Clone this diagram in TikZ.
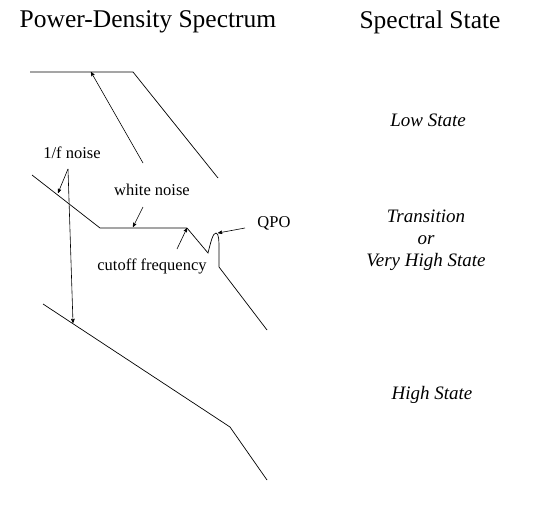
\documentclass[tikz,border=0pt]{standalone}
\usepackage{fontspec}
\setmainfont{Liberation Serif}
\usepackage{tikz}
\usetikzlibrary{arrows,positioning}

\begin{document}
\begin{tikzpicture}[x=1pt,y=-1pt,
  curve/.style={line width=0.7pt},
  pointer/.style={->,>=stealth',line width=0.6pt},
  heading/.style={anchor=base,font=\fontsize{25.5}{28}\selectfont},
  note/.style={anchor=base,font=\fontsize{16.5}{18}\selectfont},
  statelabel/.style={align=center,font=\fontsize{19}{22}\selectfont\itshape}]
\useasboundingbox (0,0) rectangle (535,532);

% headings
\node[heading] (psd) at (148,28) {Power-Density Spectrum};
\node[heading] (spec) at (430,29) {Spectral State};

% states
\node[statelabel,anchor=base] (low) at (428,126) {Low State};
\node[statelabel] (trans) at (426,240) {Transition\\or\\Very High State};
\node[statelabel,anchor=base] (high) at (432,399) {High State};

% spectra
\coordinate (l1) at (30,72);
\coordinate (l2) at (133,72);
\coordinate (l3) at (218,178);
\draw[curve] (l1) -- (l2) -- (l3);

\coordinate (t1) at (32,175);
\coordinate (t2) at (100,228);
\coordinate (t3) at (187,228);
\coordinate (t4) at (208,253);
\coordinate (qpo) at (216,233);
\coordinate (t5) at (219,267);
\coordinate (t6) at (267,330);
\draw[curve] (t1) -- (t2) -- (t3) -- (t4)
  .. controls (211,241) and (213,233) .. (qpo)
  .. controls (219,234) and (219,240) .. (219,252) -- (t5) -- (t6);

\coordinate (h1) at (43,304);
\coordinate (h2) at (230,427);
\coordinate (h3) at (267,480);
\draw[curve] (h1) -- (h2) -- (h3);

% labels and pointers
\node[note] (onef) at (72,158) {1/f noise};
\node[note] (white) at (152,195) {white noise};
\node[note] (cutoff) at (152,270) {cutoff frequency};
\node[note] (qpolabel) at (274,227) {QPO};

\coordinate (lowtail) at (143,163);
\coordinate (lowhead) at (91,72);
\coordinate (oneftail) at (68,169);
\coordinate (onefhead) at (58,193);
\coordinate (highhead) at (73,323);
\coordinate (whitetail) at (143,207);
\coordinate (whitehead) at (133,227);
\coordinate (cuttail) at (177,249);
\coordinate (qpotail) at (245,228);

\draw[pointer] (lowtail) -- (lowhead);
\draw[pointer] (oneftail) -- (onefhead);
\draw[pointer] (oneftail) -- (highhead);
\draw[pointer] (whitetail) -- (whitehead);
\draw[pointer] (cuttail) -- (t3);
\draw[pointer] (qpotail) -- (218,233);

\end{tikzpicture}
\end{document}
